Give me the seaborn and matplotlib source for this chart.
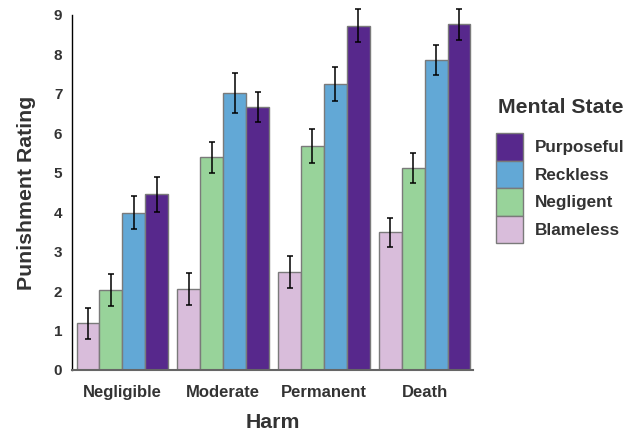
import matplotlib
matplotlib.use("Agg")
import numpy as np
import pandas as pd
import matplotlib.pyplot as plt
import matplotlib.patches as mpatches
import seaborn as sns

# ---------------------------------------------
# DATA
# ---------------------------------------------
harm = ["Negligible", "Moderate", "Permanent", "Death"]
states = ["Blameless", "Negligent", "Reckless", "Purposeful"]

blameless = [1.18, 2.06, 2.49, 3.49]
negligent = [2.03, 5.39, 5.68, 5.12]
reckless = [3.99, 7.02, 7.25, 7.86]
purposeful = [4.45, 6.67, 8.73, 8.76]

blameless_err = [0.40, 0.41, 0.41, 0.37]
negligent_err = [0.41, 0.40, 0.42, 0.39]
reckless_err = [0.41, 0.50, 0.43, 0.37]
purposeful_err = [0.45, 0.38, 0.42, 0.40]

colors = {"Blameless": "#d9bddb", "Negligent": "#98d39a",
          "Reckless": "#62a8d6", "Purposeful": "#57288c"}

means = [blameless, negligent, reckless, purposeful]
errs = [blameless_err, negligent_err, reckless_err, purposeful_err]

df = pd.DataFrame({
    "Harm": np.tile(harm, len(states)),
    "Mental State": np.repeat(states, len(harm)),
    "Rating": np.concatenate(means),
})

# ---------------------------------------------
# PLOT
# ---------------------------------------------
sns.set_theme(style="white")
plt.rcParams["font.family"] = ["Liberation Sans", "DejaVu Sans"]
text_col = "#333333"

fig = plt.figure(figsize=(6.39, 4.34), dpi=100)
ax = fig.add_axes([0.1127, 0.1475, 0.6275, 0.818])

sns.barplot(data=df, x="Harm", y="Rating", hue="Mental State",
            order=harm, hue_order=states, palette=colors, saturation=1,
            width=0.91, errorbar=None, edgecolor="#7a7a7a", linewidth=1,
            legend=False, ax=ax)

# error bars on top of each bar
for cont, err in zip(ax.containers, errs):
    for bar, e in zip(cont, err):
        eb = ax.errorbar(bar.get_x() + bar.get_width() / 2, bar.get_height(),
                         yerr=e, color="black", lw=1.1, capsize=2.5,
                         capthick=1.1)
        for artist in eb.lines[1] + eb.lines[2]:
            artist.set_clip_on(False)

ax.set_xlim(-0.5, 3.48)
ax.set_ylim(0, 9)
ax.set_yticks(range(10))
sns.despine(ax=ax)
ax.spines["left"].set_color("black")
ax.spines["left"].set_linewidth(1)
ax.spines["bottom"].set_color("#666666")
ax.spines["bottom"].set_linewidth(1.5)
ax.tick_params(axis="y", length=0, pad=7, labelsize=11, labelcolor=text_col)
ax.tick_params(axis="x", length=0, pad=11, labelsize=12, labelcolor=text_col)
for lab in ax.get_xticklabels() + ax.get_yticklabels():
    lab.set_fontweight("bold")

ax.set_xlabel("Harm", fontsize=15.3, fontweight="bold", color=text_col,
              labelpad=9)
ax.set_ylabel("Punishment Rating", fontsize=15.3, fontweight="bold",
              color=text_col, labelpad=13)

handles = [mpatches.Patch(facecolor=colors[s], edgecolor="#7a7a7a", lw=1)
           for s in states[::-1]]
leg = fig.legend(handles, states[::-1], title="Mental State",
                 loc="upper left", bbox_to_anchor=(0.763, 0.795),
                 frameon=False, fontsize=12.3, handlelength=1.58,
                 handleheight=2.1, labelspacing=0, handletextpad=0.7,
                 borderpad=0, title_fontproperties={"weight": "bold", "size": 15.3})
leg._legend_box.sep = 12
leg.get_title().set_color(text_col)
for t in leg.get_texts():
    t.set_fontweight("bold")
    t.set_color(text_col)

fig.savefig("out.png", dpi=100)
